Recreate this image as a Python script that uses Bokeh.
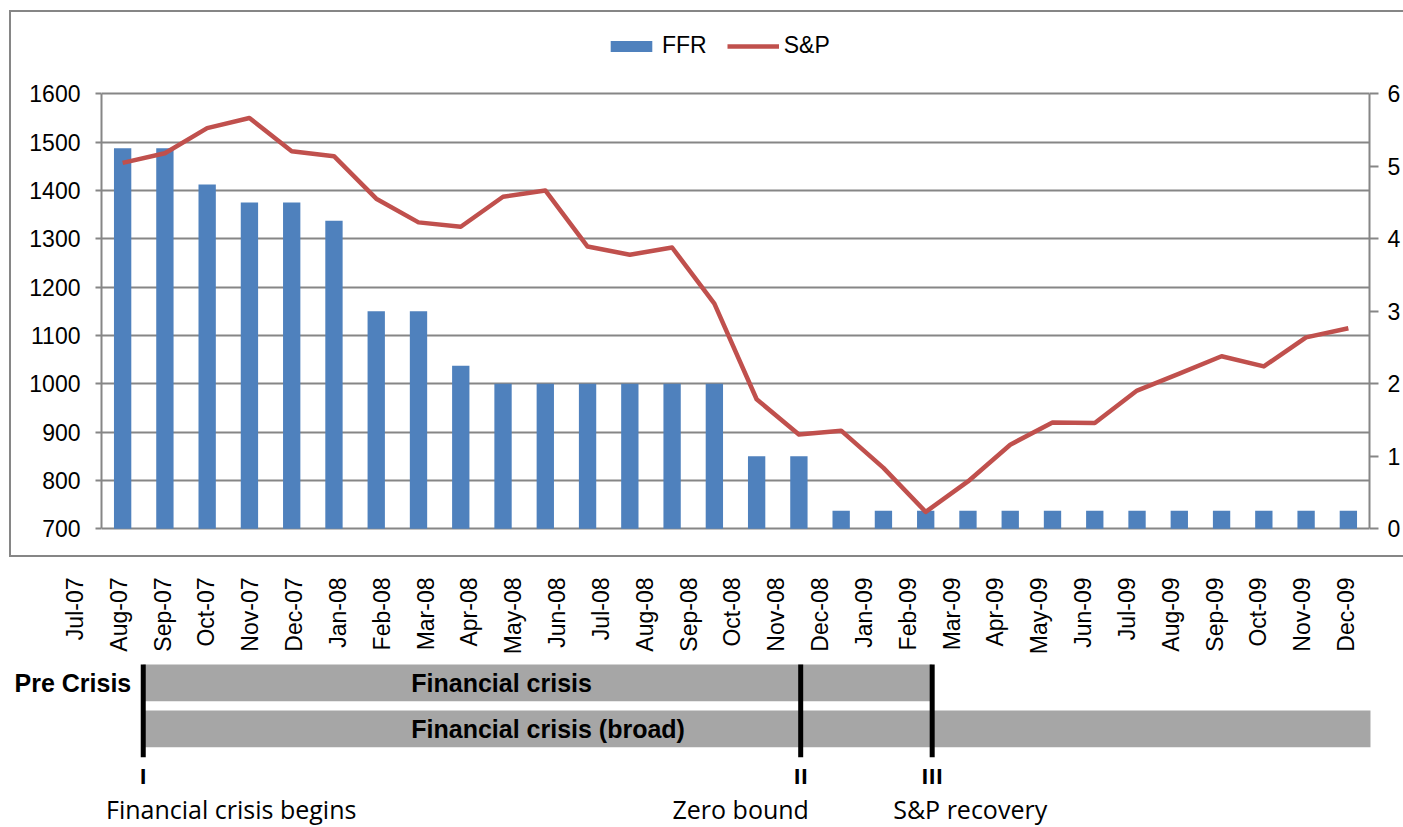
import math
from bokeh.plotting import figure
from bokeh.models import (Range1d, LinearAxis, SingleIntervalTicker, Legend,
                          LegendItem, FactorRange, ColumnDataSource)
from bokeh.layouts import column
from bokeh.embed import file_html
from bokeh.resources import INLINE
from bokeh.core.properties import value

# ---------------- data ----------------
months = ["Jul-07", "Aug-07", "Sep-07", "Oct-07", "Nov-07", "Dec-07",
          "Jan-08", "Feb-08", "Mar-08", "Apr-08", "May-08", "Jun-08",
          "Jul-08", "Aug-08", "Sep-08", "Oct-08", "Nov-08", "Dec-08",
          "Jan-09", "Feb-09", "Mar-09", "Apr-09", "May-09", "Jun-09",
          "Jul-09", "Aug-09", "Sep-09", "Oct-09", "Nov-09", "Dec-09"]
ffr = [5.25, 5.25, 4.75, 4.5, 4.5, 4.25, 3.0, 3.0, 2.25, 2.0, 2.0, 2.0,
       2.0, 2.0, 2.0, 1.0, 1.0, 0.25, 0.25, 0.25, 0.25, 0.25, 0.25, 0.25,
       0.25, 0.25, 0.25, 0.25, 0.25, 0.25]
sp = [1457, 1477, 1529, 1550, 1481, 1471, 1383, 1334, 1325, 1387, 1400, 1284,
      1267, 1282, 1166, 968, 895, 903, 826, 735, 798, 874, 920, 919,
      986, 1021, 1057, 1036, 1096, 1115]
left_axis = (700, 1600, 100)      # min, max, step
right_axis = (0, 6, 1)

phase_names = ["Financial crisis", "Financial crisis (broad)"]
phase_start = ["Sep-07", "Sep-07"]
phase_end = ["Feb-09", "Dec-09"]
phase_row = [0, 1]
pre_label = "Pre Crisis"

event_marks = ["I", "II", "III"]
event_month = ["Sep-07", "Dec-08", "Mar-09"]
event_caption = ["Financial crisis begins", "Zero bound", "S&P recovery"]

# ---------------- styles ----------------
GRID = "#868686"
BLUE = "#4F81BD"
RED = "#C0504D"
BAND = "#A6A6A6"
ARIAL = "Liberation Sans"

# ---------------- top chart ----------------
# frame extends a little beyond the axis span: above for the legend, below
# so that the bottom grid line is not clipped
lo, hi, step = left_axis
r_lo, r_hi, r_step = right_axis
ratio = (hi - lo) / (r_hi - r_lo)
y_lo = lo - 5.6
y_hi = hi + 151.7

p = figure(width=1394, height=547,
           x_range=FactorRange(*months, range_padding=0),
           y_range=Range1d(y_lo, y_hi),
           output_backend="svg", toolbar_location=None,
           x_axis_location=None, y_axis_location="left",
           min_border_left=92, min_border_right=34,
           min_border_top=10, min_border_bottom=26,
           border_fill_color=None, background_fill_color=None,
           outline_line_color=None, frame_align=False,
           margin=(10, 0, 0, 9),
           styles={"box-shadow": "inset 2px 2px 0 0 #868686, inset 0 -2px 0 0 #868686"})
p.extra_y_ranges = {"ffr": Range1d(r_lo + (y_lo - lo) / ratio,
                                   r_lo + (y_hi - lo) / ratio)}

bars = p.vbar(x=months, top=ffr, bottom=0, width=0.41, y_range_name="ffr",
              fill_color=BLUE, line_color=None)
line = p.line(x=months, y=sp, line_color=RED, line_width=4.5, line_join="round")

yl = p.yaxis[0]
yl.ticker = SingleIntervalTicker(interval=step)
yl.bounds = (lo, hi)
yr = LinearAxis(y_range_name="ffr", ticker=SingleIntervalTicker(interval=r_step),
                bounds=(r_lo, r_hi))
p.add_layout(yr, "right")
for ax, tout, stand in ((yl, 6, 15), (yr, 9, 9)):
    ax.axis_line_color = GRID
    ax.axis_line_width = 2
    ax.major_tick_line_color = GRID
    ax.major_tick_line_width = 2
    ax.major_tick_in = 0
    ax.major_tick_out = tout
    ax.minor_tick_line_color = None
    ax.major_label_text_font = ARIAL
    ax.major_label_text_font_size = "23px"
    ax.major_label_text_color = "black"
    ax.major_label_standoff = stand

p.ygrid.ticker = SingleIntervalTicker(interval=step)
p.ygrid.bounds = (lo, hi)
p.ygrid.grid_line_color = GRID
p.ygrid.grid_line_width = 2
p.xgrid.grid_line_color = None

legend = Legend(items=[LegendItem(label="FFR", renderers=[bars]),
                       LegendItem(label="S&P", renderers=[line])],
                orientation="horizontal", location=(504, 472),
                glyph_width=52, glyph_height=14, label_standoff=5, spacing=20,
                padding=0, margin=0, border_line_color=None,
                background_fill_alpha=0,
                label_text_font=ARIAL, label_text_font_size="23px",
                label_text_color="black")
p.add_layout(legend)

# ---------------- bottom timeline ----------------
q = figure(width=1403, height=270,
           x_range=Range1d(-1.7568, 30.2533), y_range=Range1d(-3.146, 2.724),
           output_backend="svg", toolbar_location=None,
           x_axis_location=None, y_axis_location=None, min_border=0,
           outline_line_color=None, border_fill_color=None,
           background_fill_color=None, frame_align=False)
q.xgrid.grid_line_color = None
q.ygrid.grid_line_color = None

# rotated month labels
q.text(x=list(range(len(months))), y=[2.289] * len(months), text=months,
       x_offset=-2.5, angle=math.pi / 2, text_align="right",
       text_baseline="middle", text_font=value(ARIAL),
       text_font_size="23px", text_color="black")

# phase bands
ph = ColumnDataSource(dict(
    name=phase_names,
    left=[months.index(s) - 0.5 for s in phase_start],
    right=[months.index(e) + 0.5 for e in phase_end],
    y=[-r for r in phase_row]))
q.hbar(y="y", left="left", right="right", height=0.8, source=ph,
       fill_color=BAND, line_color=None)

# event markers
ev = ColumnDataSource(dict(
    x=[months.index(m) - 0.5 for m in event_month],
    mark=event_marks, caption=event_caption,
    cap_dx=[88, -60, 38]))
q.segment(x0="x", y0=0.4, x1="x", y1=-1.617, source=ev,
          line_color="black", line_width=5)
q.text(x="x", y=-2.015, text="mark", source=ev, text_align="center",
       text_baseline="middle", text_font=value("Open Sans"),
       text_font_style="bold", text_font_size="22px", text_color="black")
q.text(x="x", y=-2.743, text="caption", x_offset="cap_dx", source=ev,
       text_align="center", text_baseline="middle",
       text_font=value("Open Sans"), text_font_size="25px",
       text_color="black")

# phase labels
q.text(x="left", y="y", text="name", source=ph, x_offset=268,
       text_align="left", text_baseline="middle", text_font=value(ARIAL),
       text_font_style="bold", text_font_size="25px", text_color="black")
q.text(x=[months.index(phase_start[0]) - 0.5], y=[0], text=[pre_label],
       x_offset=-12, text_align="right", text_baseline="middle",
       text_font=value(ARIAL), text_font_style="bold", text_font_size="25px",
       text_color="black")

layout = column(p, q, spacing=0)
open("out.html", "w").write(file_html(layout, INLINE))
